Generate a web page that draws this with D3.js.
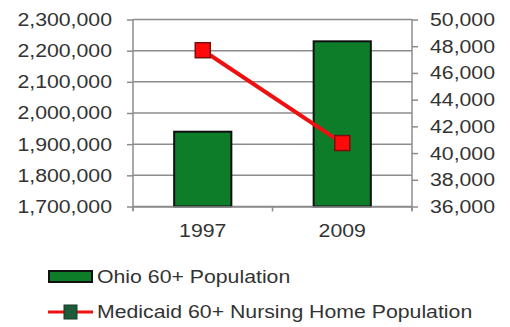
<!DOCTYPE html>
<html>
<head>
<meta charset="utf-8">
<script src="https://cdn.jsdelivr.net/npm/d3@7"></script>
<style>
  body { margin: 0; background: #fff; }
  text { font-family: "Liberation Sans", Arial, sans-serif; fill: #333; }
</style>
</head>
<body>
<svg id="drawing_region"></svg>
<script>
// data
const years = ["1997", "2009"];
const ohioPop = [1940000, 2230000];
const nursingPop = [47700, 40750];
const leftTicks = [1700000, 1800000, 1900000, 2000000, 2100000, 2200000, 2300000];
const rightTicks = [36000, 38000, 40000, 42000, 44000, 46000, 48000, 50000];
const seriesNames = ["Ohio 60+ Population", "Medicaid 60+ Nursing Home Population"];

var config = {
    parent: '#drawing_region',
    width: 510,
    height: 327,
    margin: {top: 19.5, right: 98, bottom: 120.5, left: 133}
};

const SX = 1.15;   // text in the picture is a bit wide
const fontSize = 18.5;

function stretch(sel) {
    sel.each(function() {
        const t = d3.select(this);
        const x = +t.attr('x') || 0;
        t.attr('x', x / SX)
         .attr('transform', `scale(${SX},1)`)
         .style('font-size', fontSize + 'px');
    });
}

const svg = d3.select(config.parent)
    .attr('width', config.width)
    .attr('height', config.height);

const m = config.margin;
const iw = config.width - m.left - m.right;
const ih = config.height - m.top - m.bottom;

const chart = svg.append('g')
    .attr('transform', `translate(${m.left}, ${m.top})`);

const x = d3.scaleBand()
    .domain(years)
    .range([0, iw])
    .paddingInner(0.59)
    .paddingOuter(0.295);

const yL = d3.scaleLinear().domain([1700000, 2300000]).range([ih, 0]);
const yR = d3.scaleLinear().domain([36000, 50000]).range([ih, 0]);

// gridlines
chart.append('g')
    .selectAll('line')
    .data(leftTicks)
    .join('line')
    .attr('x1', 0).attr('x2', iw)
    .attr('y1', d => yL(d)).attr('y2', d => yL(d))
    .attr('stroke', '#8c8c8c')
    .attr('stroke-width', 1.5);

// bars
chart.append('g')
    .selectAll('rect')
    .data(years)
    .join('rect')
    .attr('x', d => x(d))
    .attr('width', x.bandwidth())
    .attr('y', (d, i) => yL(ohioPop[i]))
    .attr('height', (d, i) => ih - yL(ohioPop[i]))
    .attr('fill', '#0e7d2a')
    .attr('stroke', '#111')
    .attr('stroke-width', 2);

// axes
const fmt = d3.format(',');
const axL = chart.append('g')
    .call(d3.axisLeft(yL).tickValues(leftTicks).tickFormat(fmt).tickSize(6).tickPadding(15).tickSizeOuter(0));
const axR = chart.append('g')
    .attr('transform', `translate(${iw},0)`)
    .call(d3.axisRight(yR).tickValues(rightTicks).tickFormat(fmt).tickSize(6).tickPadding(12).tickSizeOuter(0));
const axB = chart.append('g')
    .attr('transform', `translate(0,${ih})`)
    .call(d3.axisBottom(x).tickSize(0).tickPadding(17).tickSizeOuter(0));

[axL, axR, axB].forEach(a => {
    a.select('.domain').attr('stroke', '#8c8c8c').attr('stroke-width', 1.5);
    a.selectAll('.tick line').attr('stroke', '#8c8c8c').attr('stroke-width', 1.5);
    a.selectAll('text').attr('fill', '#333').call(stretch);
});
axL.select('.domain').attr('d', `M-0,0V${ih + 4}`);
axR.select('.domain').attr('d', `M0,0V${ih + 4}`);

// category boundary ticks on the bottom axis
chart.append('g')
    .selectAll('line')
    .data(d3.range(years.length + 1))
    .join('line')
    .attr('x1', i => i * x.step()).attr('x2', i => i * x.step())
    .attr('y1', ih).attr('y2', ih + 5)
    .attr('stroke', '#8c8c8c')
    .attr('stroke-width', 1.5);

// line series on the right axis
const cx = d => x(d) + x.bandwidth() / 2;
chart.append('path')
    .datum(years)
    .attr('d', d3.line().x(cx).y((d, i) => yR(nursingPop[i])))
    .attr('fill', 'none')
    .attr('stroke', '#ee1111')
    .attr('stroke-width', 4);

const ms = 15;
chart.append('g')
    .selectAll('rect')
    .data(years)
    .join('rect')
    .attr('x', d => cx(d) - ms / 2)
    .attr('y', (d, i) => yR(nursingPop[i]) - ms / 2)
    .attr('width', ms).attr('height', ms)
    .attr('fill', '#ff0a0a')
    .attr('stroke', '#7a0d0d')
    .attr('stroke-width', 1.5);

// legend
const legend = svg.append('g').attr('transform', 'translate(48,0)');
legend.append('rect')
    .attr('x', 1).attr('y', 271).attr('width', 43).attr('height', 11)
    .attr('fill', '#0e7d2a').attr('stroke', '#111').attr('stroke-width', 2);
legend.append('line')
    .attr('x1', 0).attr('x2', 45).attr('y1', 312).attr('y2', 312)
    .attr('stroke', '#ee1111').attr('stroke-width', 3);
legend.append('rect')
    .attr('x', 16).attr('y', 305).attr('width', 13).attr('height', 14)
    .attr('fill', '#1d5a3a').attr('stroke', '#133d27').attr('stroke-width', 1);
legend.selectAll('text.lg')
    .data(seriesNames)
    .join('text')
    .attr('class', 'lg')
    .attr('x', 49)
    .attr('y', (d, i) => 283.5 + i * 35)
    .text(d => d)
    .call(stretch);
</script>
</body>
</html>
